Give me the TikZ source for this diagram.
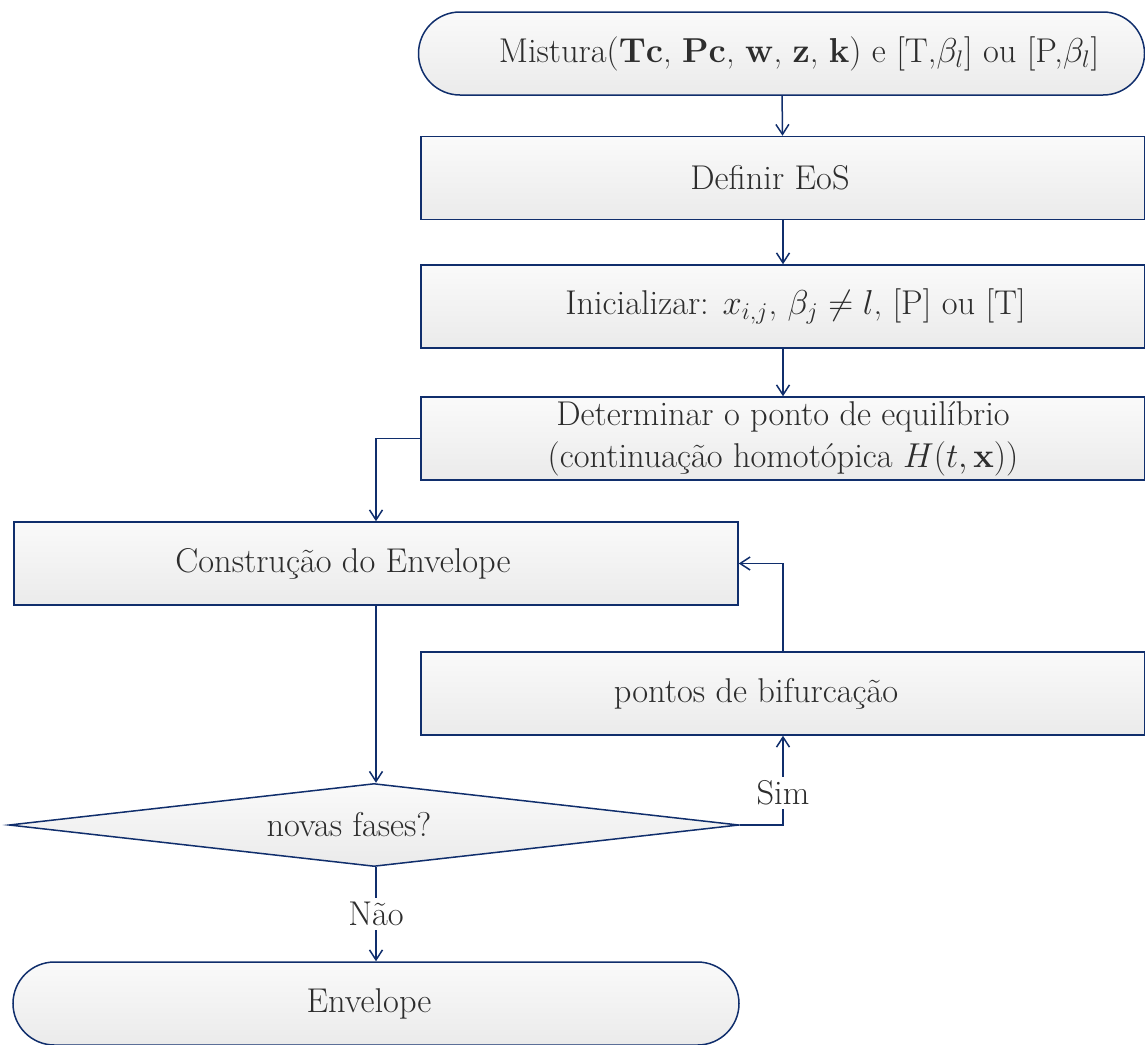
\documentclass[tikz,border=0pt]{standalone}
\usetikzlibrary{shapes.geometric,shapes.misc,arrows.meta}
\definecolor{lineblue}{RGB}{16,46,108}
\definecolor{txtgray}{RGB}{45,45,45}
\begin{document}
\begin{tikzpicture}[x=0.5pt,y=-0.5pt,
  font=\fontsize{17.2}{21}\selectfont, text=txtgray,
  base/.style={draw=lineblue, line width=0.75pt, top color=black!2, bottom color=black!8, align=center, inner sep=0pt},
  procbox/.style={base, rectangle, minimum width=362pt, minimum height=41.5pt},
  termbox/.style={base, rounded rectangle, minimum width=363pt, minimum height=41.5pt},
  decbox/.style={base, diamond, aspect=8.8, minimum width=365pt, minimum height=41.5pt},
  conn/.style={draw=lineblue, line width=0.75pt, -{Straight Barb[length=5pt,width=6.5pt]}},
  lbl/.style={fill=white, inner sep=2pt}]
\useasboundingbox (0,0) rectangle (1145,1044);
\node[termbox] (start) at (781.5,53.5) {\hspace*{17.5pt}Mistura($\mathbf{Tc}$, $\mathbf{Pc}$, $\mathbf{w}$, $\mathbf{z}$, $\mathbf{k}$) e [T,$\beta_l$] ou [P,$\beta_l$]};
\node[procbox] (eos) at (783,178) {Definir EoS\hspace*{13pt}};
\node[procbox] (init) at (783,306.5) {\hspace*{12.5pt}Inicializar: $x_{i,j}$, $\beta_j \neq l$, [P] ou [T]};
\node[procbox] (det) at (783,438.5) {Determinar o ponto de equilíbrio\\(continuação homotópica $H(t,\mathbf{x})$)};
\node[procbox] (cons) at (376,563.5) {Construção do Envelope\hspace*{33pt}};
\node[procbox] (bif) at (783,693.5) {pontos de bifurcação\hspace*{27pt}};
\node[decbox] (dec) at (374,825) {novas fases?\hspace*{25pt}};
\node[termbox] (env) at (376,1003.5) {Envelope\hspace*{7pt}};
\draw[conn] (start) -- (eos);
\draw[conn] (eos) -- (init);
\draw[conn] (init) -- (det);
\draw[conn] (det.west) -| (cons.north);
\draw[conn] (cons.south) -- (cons.south |- dec.north);
\draw[conn] (dec.east) -| node[lbl, pos=0.68] {Sim} (bif.south);
\draw[conn] (bif.north) |- (cons.east);
\draw[conn] (cons.south |- dec.south) -- node[lbl, pos=0.5] {Não} (env.north);
\end{tikzpicture}
\end{document}
